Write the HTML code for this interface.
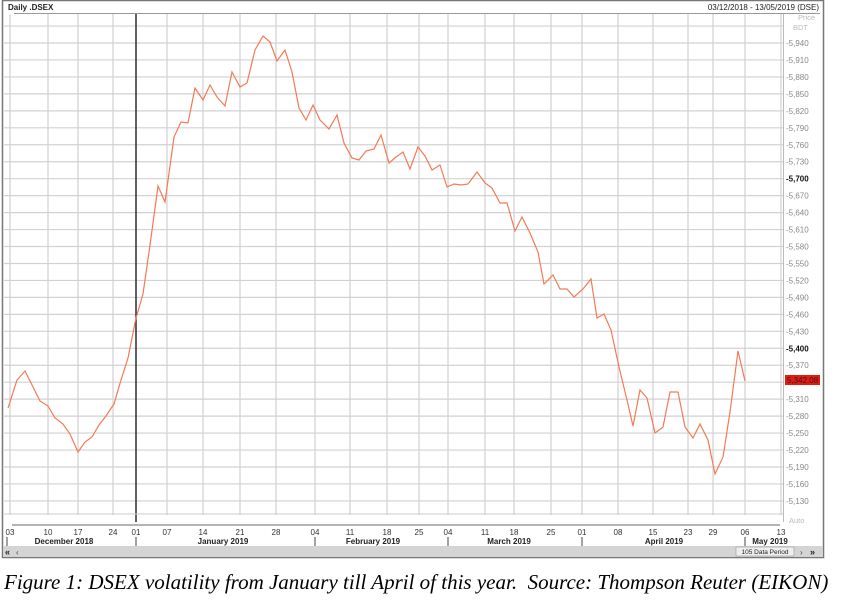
<!DOCTYPE html>
<html><head><meta charset="utf-8"><style>
html,body{margin:0;padding:0;background:#fff;width:844px;height:600px;overflow:hidden}
svg{position:absolute;left:0;top:0}
.cap{position:absolute;left:4px;top:570px;font-family:"Liberation Serif",serif;font-style:italic;font-size:21px;color:#000;white-space:nowrap}
</style></head><body>
<svg id="s" width="844" height="560" xmlns="http://www.w3.org/2000/svg" font-family="Liberation Sans, sans-serif"></svg>
<div class="cap">Figure 1: DSEX volatility from January till April of this year.&nbsp; Source: Thompson Reuter (EIKON)</div>
<script>
var s=document.getElementById('s'),h='';
h+='<rect x="2.5" y="0.5" width="821" height="557" fill="#fff" stroke="#777" stroke-width="1.5"/>';
h+='<text x="8" y="10" font-size="8" font-weight="bold" fill="#222">Daily .DSEX</text>';
h+='<text x="819" y="10" font-size="8" fill="#222" text-anchor="end">03/12/2018 - 13/05/2019 (DSE)</text>';
h+='<line x1="14" y1="13.5" x2="820" y2="13.5" stroke="#999"/>';
function y(v){return 43+(5940-v)/30*16.96;}
for(var v=5970;v>=5130;v-=30){var yy=y(v);h+='<line x1="4" y1="'+yy+'" x2="783" y2="'+yy+'" stroke="#d2d2d2" stroke-width="1.2"/>';}
var xs=[10,48,78,113,136,167,203,240,276,315,350,387,419,448,485,514,551,582,618,653,688,713,745,781];
var lb=['03','10','17','24','01','07','14','21','28','04','11','18','25','04','11','18','25','01','08','15','23','29','06','13'];
xs.forEach(function(x,i){h+='<line x1="'+x+'" y1="14" x2="'+x+'" y2="515" stroke="#d0d0d0" stroke-width="1.2"/>';h+='<text x="'+x+'" y="535" font-size="8" fill="#333" text-anchor="middle">'+lb[i]+'</text>';});
h+='<line x1="136" y1="14" x2="136" y2="522" stroke="#111" stroke-width="1.3"/>';
h+='<line x1="783.5" y1="14" x2="783.5" y2="522" stroke="#bbb"/>';
h+='<line x1="4" y1="514" x2="783" y2="514" stroke="#ccc"/>';
h+='<line x1="12" y1="525" x2="780" y2="525" stroke="#888" stroke-width="1.2"/>';
h+='<text x="798" y="20" font-size="7.5" fill="#bbb">Price</text><text x="793" y="30" font-size="7.5" fill="#bbb">BDT</text>';
for(var v=5940;v>=5130;v-=30){if(v==5340)continue;var yy=y(v),b=(v==5700||v==5400);
h+='<text x="786" y="'+(yy+3)+'" font-size="8" fill="'+(b?'#111':'#888')+'"'+(b?' font-weight="bold"':'')+'>-'+(v+'').replace(/(\d)(\d{3})$/,'$1,$2')+'</text>';}
h+='<rect x="785" y="375" width="35" height="10" fill="#e8190f"/><text x="787" y="383" font-size="8" fill="#222">5,342.08</text>';
h+='<text x="789" y="523" font-size="7.5" fill="#bbb">Auto</text>';
var ms=[[64,'December 2018'],[223,'January 2019'],[373,'February 2019'],[509,'March 2019'],[664,'April 2019'],[770,'May 2019']];
ms.forEach(function(m){h+='<text x="'+m[0]+'" y="544" font-size="8" font-weight="bold" fill="#222" text-anchor="middle">'+m[1]+'</text>';});
[7,136,315,448,582,745].forEach(function(x){h+='<line x1="'+x+'" y1="537" x2="'+x+'" y2="546" stroke="#444"/>';});
h+='<rect x="3" y="546" width="820" height="11" fill="#d4d4d4"/>';
h+='<text x="5" y="555" font-size="9" font-weight="bold" fill="#222">«</text><text x="16" y="555" font-size="8" fill="#444">‹</text>';
h+='<rect x="736" y="547" width="58" height="9" fill="#eee" stroke="#999" stroke-width="0.6"/><text x="765" y="554" font-size="6.5" fill="#222" text-anchor="middle">105 Data Period</text>';
h+='<text x="800" y="555" font-size="8" fill="#444">›</text><text x="810" y="555" font-size="9" font-weight="bold" fill="#222">»</text>';
var p="8,408 17,380 25,371 33,387 40,401 48,406 55,418 63,424 70,434 78,452 85,442 92,437 99,425 106,416 114,404 121,380 128,358 136,318 143,294 150,245 158,186 165,202 174,137 181,122 188,123 195,88 203,100 210,85 217,97 225,106 232,72 240,87 247,83 255,50 263,36 270,42 277,61 285,50 292,72 299,108 306,120 313,105 320,120 329,129 337,115 344,143 352,158 359,160 366,151 374,149 381,135 389,163 396,157 403,152 410,169 418,147 425,156 432,170 440,165 447,187 454,184 461,185 468,184 477,172 485,183 492,188 500,203 507,203 515,231 522,217 530,233 538,252 544,284 553,275 560,289 567,289 574,297 583,289 591,279 597,318 604,314 611,330 619,367 627,400 633,426 640,390 647,398 655,433 663,427 670,392 678,392 685,427 693,438 700,424 708,440 715,474 723,457 730,412 738,351 745,381";
h+='<polyline points="'+p+'" fill="none" stroke="#f47a55" stroke-width="1.2"/>';
s.innerHTML=h;
</script>
</body></html>
